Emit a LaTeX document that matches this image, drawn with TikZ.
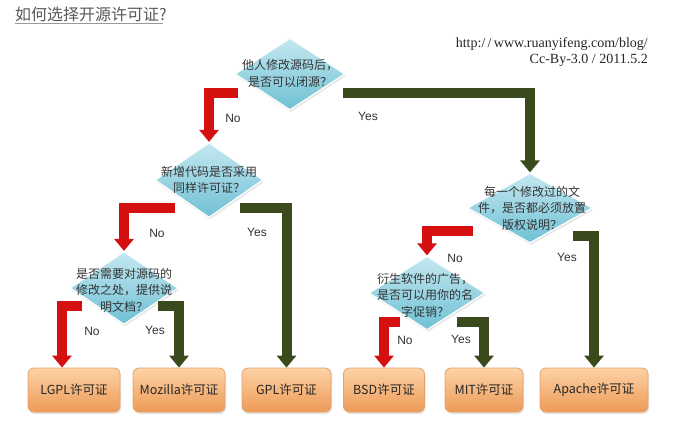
\documentclass[tikz,border=0pt]{standalone}
\usepackage{fontspec}
\setmainfont{Liberation Sans}
\newfontfamily\cjk{Noto Sans CJK SC}
\newfontfamily\serifurl{Liberation Serif}
\usetikzlibrary{shapes.geometric,arrows.meta,shadows,calc}

\definecolor{arrred}{HTML}{D41010}
\definecolor{arrgreen}{HTML}{3A4A1C}
\definecolor{dtop}{HTML}{C4E8F0}
\definecolor{dbot}{HTML}{6FC0D4}
\definecolor{btop}{HTML}{FCD2A6}
\definecolor{bbot}{HTML}{EE9A56}
\definecolor{bdraw}{HTML}{E3A26A}
\definecolor{txt}{HTML}{333333}

\begin{document}
\begin{tikzpicture}[x=1pt,y=-1pt,
  decision/.style={diamond, inner sep=0pt, top color=dtop, bottom color=dbot,
    draw=white, line width=1.2pt,
    drop shadow={opacity=0.2, shadow xshift=1pt, shadow yshift=-2pt}},
  dtext/.style={font=\cjk\fontsize{12}{16.5}\selectfont, text=txt, align=center, inner sep=0pt},
  licbox/.style={rounded corners=6pt, top color=btop, bottom color=bbot, draw=bdraw,
    line width=0.8pt, minimum height=44pt, inner sep=0pt,
    font=\cjk\fontsize{12.5}{14}\selectfont, text=black!85,
    drop shadow={opacity=0.2, shadow xshift=1pt, shadow yshift=-2pt}},
  noarrow/.style={line width=10pt, draw=arrred, line join=miter,
    -{Triangle[length=12pt,width=19pt]}},
  yesarrow/.style={line width=10pt, draw=arrgreen, line join=miter,
    -{Triangle[length=12pt,width=19pt]}},
  lbl/.style={font=\fontsize{12}{14}\selectfont, text=txt, inner sep=0pt}
]
\useasboundingbox[fill=white] (0,0) rectangle (685,421);

% title and source
\node[font=\cjk\fontsize{16}{18}\selectfont, text=black!65, anchor=west, inner sep=0pt] (title) at (15,14) {如何选择开源许可证?};
\draw[black!40, line width=0.8pt] (15,23) -- (163,23);
\node[font=\serifurl\fontsize{14}{16}\selectfont, anchor=east, align=right, text=black!85, inner sep=0pt] (src) at (648,52)
  {http:/\,/\,www.ruanyifeng.com/blog/\\Cc-By-3.0 / 2011.5.2};

% decisions
\node[decision, minimum width=110pt, minimum height=72pt] (d1) at (290,74) {};
\node[dtext] (t1) at (290,73.5) {他人修改源码后，\\是否可以闭源？};
\node[decision, minimum width=108pt, minimum height=75pt] (d2) at (209,180) {};
\node[dtext] (t2) at (209,180) {新增代码是否采用\\同样许可证？};
\node[decision, minimum width=108pt, minimum height=73pt] (d4) at (124,288) {};
\node[dtext] (t4) at (124,290) {是否需要对源码的\\修改之处，提供说\\明文档？};
\node[decision, minimum width=125pt, minimum height=70pt] (d3) at (530,208) {};
\node[dtext] (t3) at (532,208) {每一个修改过的文\\件，是否都必须放置\\版权说明？};
\node[decision, minimum width=116pt, minimum height=74pt] (d5) at (427,293) {};
\node[dtext] (t5) at (425,295) {衍生软件的广告，\\是否可以用你的名\\字促销？};

% licences
\node[licbox, minimum width=92pt] (lgpl) at (74,390) {LGPL许可证};
\node[licbox, minimum width=92pt] (mozilla) at (179,390) {Mozilla许可证};
\node[licbox, minimum width=89pt] (gpl) at (286.5,390) {GPL许可证};
\node[licbox, minimum width=81pt] (bsd) at (384,390) {BSD许可证};
\node[licbox, minimum width=78pt] (mit) at (484,390) {MIT许可证};
\node[licbox, minimum width=108pt] (apache) at (594,390) {Apache许可证};

% arrow start points
\coordinate (s1n) at (238,93);
\coordinate (s1y) at (343,93);
\coordinate (s2n) at (175,208);
\coordinate (s2y) at (240,208);
\coordinate (s4n) at (82,306);
\coordinate (s4y) at (158,306);
\coordinate (s3n) at (473,231);
\coordinate (s3y) at (573,236);
\coordinate (s5n) at (400,322);
\coordinate (s5y) at (457,322);
\coordinate (lgplin) at ($(lgpl.north)+(-12,0)$);

% arrows
\draw[noarrow] (s1n) -| (d2.north);
\draw[yesarrow] (s1y) -| (d3.north);
\draw[noarrow] (s2n) -| (d4.north);
\draw[yesarrow] (s2y) -| (gpl.north);
\draw[noarrow] (s4n) -| (lgplin);
\draw[yesarrow] (s4y) -| (mozilla.north);
\draw[noarrow] (s3n) -| (d5.north);
\draw[yesarrow] (s3y) -| (apache.north);
\draw[noarrow] (s5n) -| (bsd.north);
\draw[yesarrow] (s5y) -| (mit.north);

% labels
\node[lbl] (l1n) at (233,118) {No};
\node[lbl] (l1y) at (368,116) {Yes};
\node[lbl] (l2n) at (157,233) {No};
\node[lbl] (l2y) at (257,232) {Yes};
\node[lbl] (l4n) at (92,331) {No};
\node[lbl] (l4y) at (155,330) {Yes};
\node[lbl] (l3n) at (455,258) {No};
\node[lbl] (l3y) at (567,257) {Yes};
\node[lbl] (l5n) at (405,340) {No};
\node[lbl] (l5y) at (461,339) {Yes};
\end{tikzpicture}
\end{document}
